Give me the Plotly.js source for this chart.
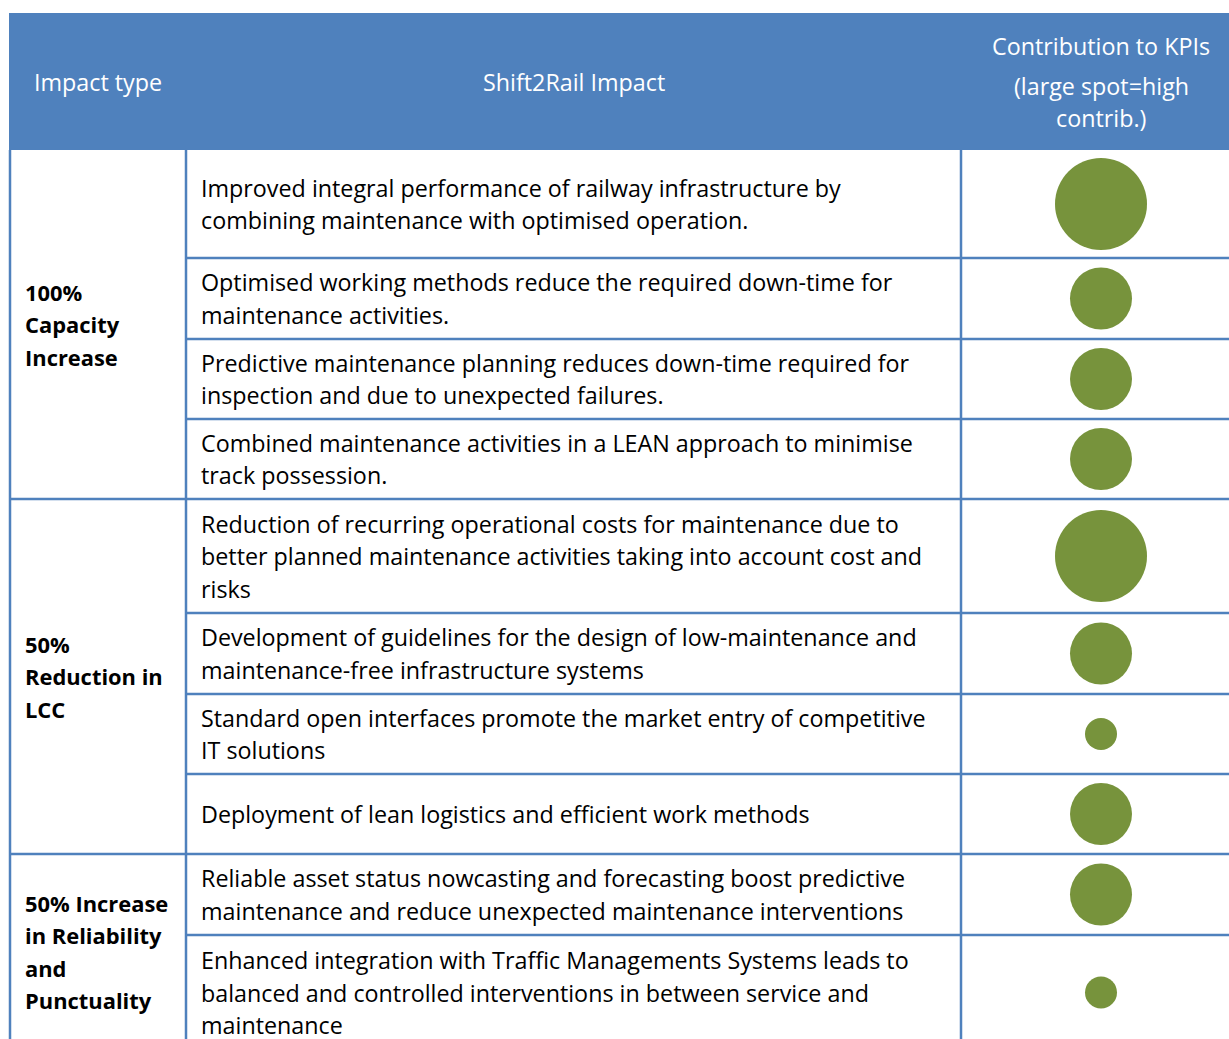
<!DOCTYPE html>
<html>
<head>
<meta charset="utf-8">
<script src="https://cdn.plot.ly/plotly-3.0.1.min.js"></script>
<style>html,body{margin:0;padding:0;background:#fff;}#chart{width:1229px;height:1039px;}</style>
</head>
<body>
<div id="chart"></div>
<script>
// ---- data ----
var headerImpactType = "Impact type";
var headerImpact = "Shift2Rail Impact";
var headerKPI = ["Contribution to KPIs", "(large spot=high", "contrib.)"];

var groupLabels = [
  ["100%", "Capacity", "Increase"],
  ["50%", "Reduction in", "LCC"],
  ["50% Increase", "in Reliability", "and", "Punctuality"]
];
var groupRowCounts = [4, 4, 2];

var impacts = [
  ["Improved integral performance of railway infrastructure by", "combining maintenance with optimised operation."],
  ["Optimised working methods reduce the required down-time for", "maintenance activities."],
  ["Predictive maintenance planning reduces down-time required for", "inspection and due to unexpected failures."],
  ["Combined maintenance activities in a LEAN approach to minimise", "track possession."],
  ["Reduction of recurring operational costs for maintenance due to", "better planned maintenance activities taking into account cost and", "risks"],
  ["Development of guidelines for the design of low-maintenance and", "maintenance-free infrastructure systems"],
  ["Standard open interfaces promote the market entry of competitive", "IT solutions"],
  ["Deployment of lean logistics and efficient work methods"],
  ["Reliable asset status nowcasting and forecasting boost predictive", "maintenance and reduce unexpected maintenance interventions"],
  ["Enhanced integration with Traffic Managements Systems leads to", "balanced and controlled interventions in between service and", "maintenance"]
];
// contribution level: 3 = large spot, 2 = medium, 1 = small
var contribution = [3, 2, 2, 2, 3, 2, 1, 2, 2, 1];

// ---- layout / style ----
var W = 1229, H = 1039;
var BLUE = "#4F81BD", GREEN = "#77933C";
var FONT = "'Open Sans', sans-serif";
var FS = 23.3, FSB = 21.9, LINE = 32.5;
var headerTop = 13, headerBottom = 150;
var colX = [10, 186, 961, 1229];
var rowHeights = [108, 81, 80, 80, 114, 81, 80, 80, 81, 115];
var spotSize = {1: 32, 2: 62, 3: 92};

var rowTop = [], y = headerBottom;
rowHeights.forEach(function(h){ rowTop.push(y); y += h; });
var rowCenter = rowTop.map(function(t, i){ return t + rowHeights[i] / 2; });

var shapes = [];
var annotations = [];
function line(x0, y0, x1, y1){
  shapes.push({type:"line", xref:"x", yref:"y", x0:x0, y0:y0, x1:x1, y1:y1, line:{color:BLUE, width:2.5}, layer:"above"});
}
function txt(x, y, s, opts){
  annotations.push(Object.assign({xref:"x", yref:"y", x:x, y:y, text:s, showarrow:false,
    xanchor:"left", yanchor:"middle", font:{family:FONT, size:FS, color:"#000"}}, opts || {}));
}

// header
shapes.push({type:"rect", xref:"x", yref:"y", x0:9, y0:headerTop, x1:W, y1:headerBottom, fillcolor:BLUE, line:{width:0}, layer:"below"});
var hc = (headerTop + headerBottom) / 2;
txt((colX[0] + colX[1]) / 2, hc, headerImpactType, {xanchor:"center", font:{family:FONT, size:FS, color:"#fff"}});
txt((colX[1] + colX[2]) / 2, hc, headerImpact, {xanchor:"center", font:{family:FONT, size:FS, color:"#fff"}});
var kx = 1101, ky = [46, 86, 118];
headerKPI.forEach(function(s, i){ txt(kx, ky[i], s, {xanchor:"center", font:{family:FONT, size:FS, color:"#fff"}}); });

// grid
var bottom = rowTop[rowTop.length - 1] + rowHeights[rowHeights.length - 1];
line(colX[0], headerBottom, colX[0], bottom);
line(colX[1], headerBottom, colX[1], bottom);
line(colX[2], headerBottom, colX[2], bottom);
var gStart = 0, groupBounds = [];
groupRowCounts.forEach(function(n){ groupBounds.push([gStart, gStart + n]); gStart += n; });
rowTop.forEach(function(t, i){
  if (i === 0) return;
  var isGroup = groupBounds.some(function(b){ return b[0] === i; });
  line(isGroup ? colX[0] : colX[1], t, W, t);
});

// group labels
groupBounds.forEach(function(b, g){
  var top = rowTop[b[0]];
  var bot = rowTop[b[1] - 1] + rowHeights[b[1] - 1];
  var c = (top + bot) / 2;
  var lines = groupLabels[g];
  lines.forEach(function(s, k){
    txt(23, c + (k - (lines.length - 1) / 2) * LINE, "<b>" + s + "</b>", {font:{family:FONT, size:FSB, color:"#000"}});
  });
});

// impact texts
impacts.forEach(function(lines, i){
  lines.forEach(function(s, k){
    txt(199, rowCenter[i] + (k - (lines.length - 1) / 2) * LINE, s);
  });
});

var trace = {
  type:"scatter", mode:"markers",
  x: contribution.map(function(){ return (colX[2] + colX[3]) / 2 + 6; }),
  y: rowCenter,
  marker:{size: contribution.map(function(c){ return spotSize[c]; }), color:GREEN, opacity:1, line:{width:0}},
  opacity:1,
  hoverinfo:"skip", cliponaxis:false
};

var layout = {
  width:W, height:H, margin:{l:0, r:0, t:0, b:0},
  paper_bgcolor:"#fff", plot_bgcolor:"#fff", showlegend:false,
  xaxis:{range:[0, W], visible:false, fixedrange:true},
  yaxis:{range:[H, 0], visible:false, fixedrange:true},
  shapes:shapes, annotations:annotations
};
Plotly.newPlot("chart", [trace], layout, {displayModeBar:false, staticPlot:true});
</script>
</body>
</html>
